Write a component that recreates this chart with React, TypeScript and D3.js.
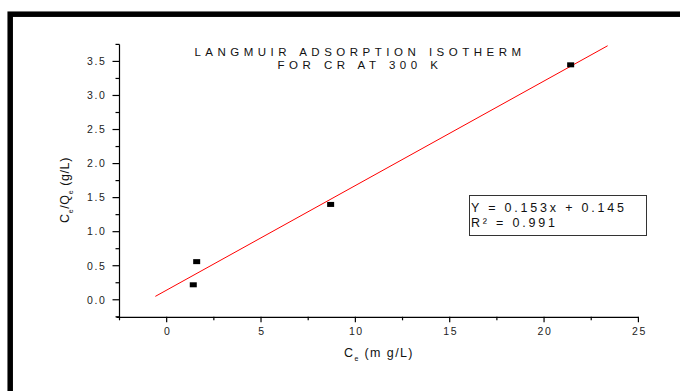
import React, { useEffect, useRef } from 'react';
import * as d3 from 'd3';

// values
const ceValues = [1.41, 1.59, 8.69, 21.41];
const ratioValues = [0.22, 0.56, 1.4, 3.45];
const fitX = [-0.6, 23.37];
const fitY = [0.05, 3.73];
const xTicks = [0, 5, 10, 15, 20, 25];
const yTicks = [0, 0.5, 1, 1.5, 2, 2.5, 3, 3.5];
const titleLines = ['LANGMUIR ADSORPTION ISOTHERM', 'FOR CR AT 300 K'];
const legendLines = ['Y = 0.153x + 0.145', 'R\u00B2 = 0.991'];

const FONT = '"Liberation Sans", Arial, sans-serif';

function App() {
  const svgRef = useRef<SVGSVGElement>(null);
  const width = 680;
  const height = 391;

  useEffect(() => {
    const svg = d3.select(svgRef.current);
    svg.selectAll('*').remove();

    const x = d3.scaleLinear().domain([-2.5, 25]).range([119.5, 638.4]);
    const y = d3.scaleLinear().domain([-0.25, 3.75]).range([316.8, 44.4]);

    // outer frame (cut off on the right and bottom)
    svg.append('rect')
      .attr('x', 10.2).attr('y', 14.2)
      .attr('width', 700).attr('height', 420)
      .attr('fill', 'none').attr('stroke', '#000').attr('stroke-width', 5.5);

    const axes = svg.append('g').attr('stroke', '#000').attr('stroke-width', 1.2);
    const x0 = x(-2.5);
    const y0 = y(-0.25);

    axes.append('line').attr('x1', x0).attr('x2', x0).attr('y1', y(3.75)).attr('y2', y0 + 0.6);
    axes.append('line').attr('x1', x0 - 3).attr('x2', x(25)).attr('y1', y0 + 0.6).attr('y2', y0 + 0.6);

    const xMinor = d3.range(-2.5, 25.01, 2.5).filter(v => !xTicks.includes(v));
    const yMinor = d3.range(-0.25, 3.76, 0.5);

    axes.selectAll('.xmaj').data(xTicks).enter().append('line')
      .attr('x1', d => x(d)).attr('x2', d => x(d))
      .attr('y1', y0).attr('y2', y0 + 5.5);
    axes.selectAll('.xmin').data(xMinor).enter().append('line')
      .attr('x1', d => x(d)).attr('x2', d => x(d))
      .attr('y1', y0).attr('y2', y0 + 3.5);
    axes.selectAll('.ymaj').data(yTicks).enter().append('line')
      .attr('x1', x0 - 7).attr('x2', x0)
      .attr('y1', d => y(d)).attr('y2', d => y(d));
    axes.selectAll('.ymin').data(yMinor).enter().append('line')
      .attr('x1', x0 - 4).attr('x2', x0)
      .attr('y1', d => y(d)).attr('y2', d => y(d));

    // tick labels
    svg.append('g').selectAll('text').data(xTicks).enter().append('text')
      .attr('x', d => x(d) + 1).attr('y', y0 + 18.5)
      .attr('text-anchor', 'middle')
      .style('font-family', FONT).style('font-size', '10.5px').style('letter-spacing', '1.6px')
      .attr('fill', '#222')
      .text(d => d);

    svg.append('g').selectAll('text').data(yTicks).enter().append('text')
      .attr('x', x0 - 13).attr('y', d => y(d) + 3.8)
      .attr('text-anchor', 'end')
      .style('font-family', FONT).style('font-size', '10.5px').style('letter-spacing', '1.6px')
      .attr('fill', '#222')
      .text(d => d.toFixed(1));

    // axis titles
    const xt = svg.append('text')
      .attr('x', (x(-2.5) + x(25)) / 2).attr('y', 357)
      .attr('text-anchor', 'middle')
      .style('font-family', FONT).style('font-size', '12.5px').style('letter-spacing', '1.4px')
      .attr('fill', '#111');
    xt.append('tspan').text('C');
    xt.append('tspan').attr('dy', 4).style('font-size', '7px').text('e');
    xt.append('tspan').attr('dy', -4).text(' (m g/L)');

    const yt = svg.append('text')
      .attr('transform', 'translate(69,190) rotate(-90)')
      .attr('text-anchor', 'middle')
      .style('font-family', FONT).style('font-size', '12.5px').style('letter-spacing', '0.6px')
      .attr('fill', '#111');
    yt.append('tspan').text('C');
    yt.append('tspan').attr('dy', 4).style('font-size', '7px').text('e');
    yt.append('tspan').attr('dy', -4).text('/Q');
    yt.append('tspan').attr('dy', 4).style('font-size', '7px').text('e');
    yt.append('tspan').attr('dy', -4).text(' (g/L)');

    // title
    svg.append('g').selectAll('text').data(titleLines).enter().append('text')
      .attr('x', 360).attr('y', (d, i) => 56 + i * 12.8)
      .attr('text-anchor', 'middle')
      .style('font-family', FONT).style('font-size', '11.5px').style('letter-spacing', '4.5px')
      .style('word-spacing', '1px')
      .attr('fill', '#111')
      .text(d => d);

    // fitted line
    svg.append('line')
      .attr('x1', x(fitX[0])).attr('y1', y(fitY[0]))
      .attr('x2', x(fitX[1])).attr('y2', y(fitY[1]))
      .attr('stroke', '#ff0000').attr('stroke-width', 1);

    // data points
    svg.append('g').selectAll('rect').data(ceValues).enter().append('rect')
      .attr('x', (d) => x(d) - 3.5)
      .attr('y', (d, i) => y(ratioValues[i]) - 2.5)
      .attr('width', 7).attr('height', 5)
      .attr('fill', '#000');

    // equation box
    svg.append('rect')
      .attr('x', 469.5).attr('y', 195.5)
      .attr('width', 177).attr('height', 40)
      .attr('fill', '#fff').attr('stroke', '#333').attr('stroke-width', 1);
    svg.append('g').selectAll('text').data(legendLines).enter().append('text')
      .attr('x', 471).attr('y', (d, i) => 211.5 + i * 15)
      .style('font-family', FONT).style('font-size', '12.5px').style('letter-spacing', '2.8px')
      .attr('fill', '#111')
      .text(d => d);
  }, []);

  return (
    <svg ref={svgRef} width={width} height={height}
      style={{ position: 'absolute', left: 0, top: 0, background: '#fff' }} />
  );
}

export default App;
